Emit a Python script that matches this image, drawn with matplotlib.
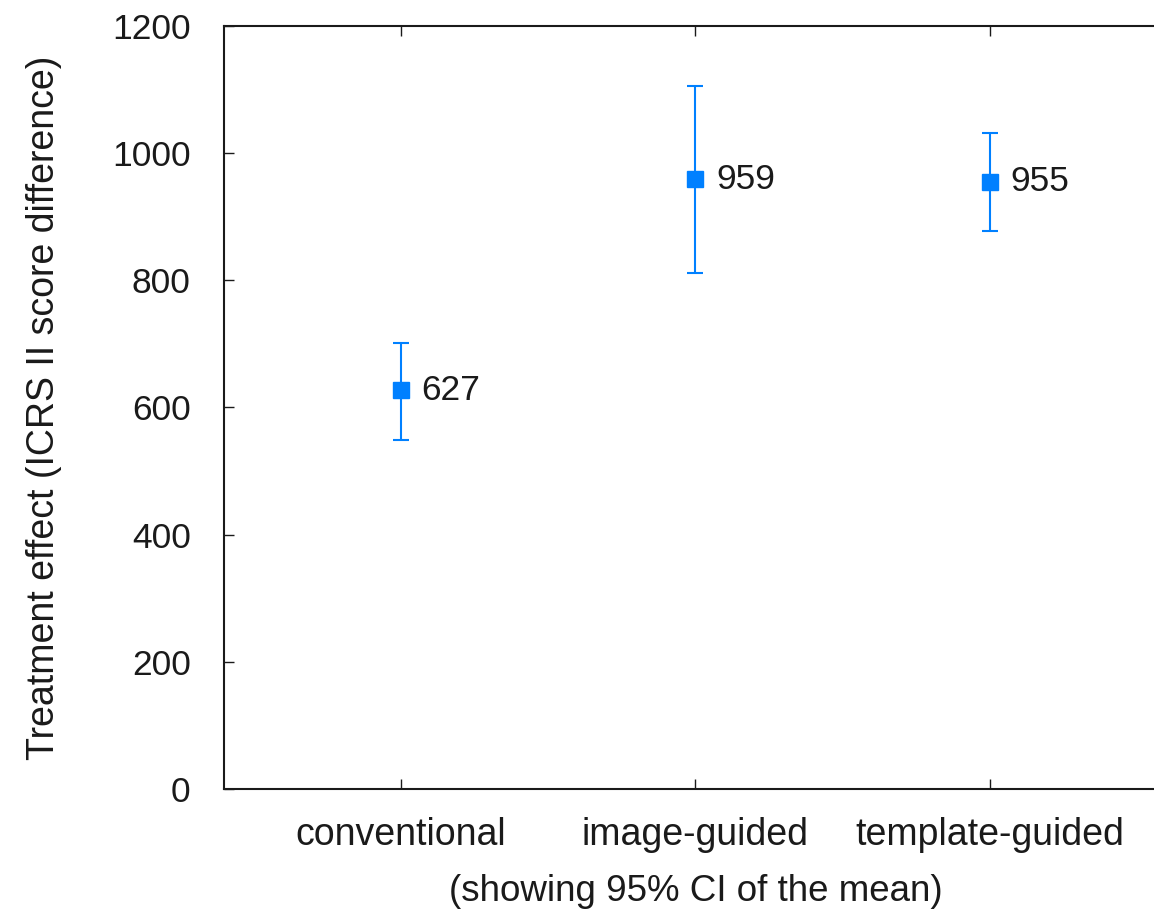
import matplotlib
matplotlib.use('Agg')
import matplotlib.pyplot as plt

# data
groups = ['conventional', 'image-guided', 'template-guided']
means = [627, 959, 955]
ci_low = [549, 812, 878]
ci_high = [702, 1105, 1032]

blue = '#0080ff'
plt.rcParams['font.family'] = ['Liberation Sans', 'DejaVu Sans']
plt.rcParams['font.size'] = 25.5

fig = plt.figure(figsize=(11.54, 9.15), dpi=100)
ax = fig.add_axes([0.1941, 0.1377, 0.817, 0.8339])

x = list(range(1, len(groups) + 1))
err = [[m - lo for m, lo in zip(means, ci_low)],
       [hi - m for m, hi in zip(means, ci_high)]]
ax.errorbar(x, means, yerr=err, fmt='s', color=blue, ecolor=blue,
            markersize=11, elinewidth=1.5, capsize=5.5, capthick=1.5)
for xi, m in zip(x, means):
    ax.annotate(str(m), (xi, m), xytext=(15, 0), textcoords='offset points',
                va='center', ha='left', color='#1a1a1a')

ax.set_xlim(0.4, 3.6)
ax.set_ylim(0, 1200)
ax.set_yticks(range(0, 1201, 200))
ax.set_xticks(x)
ax.set_xticklabels(groups, fontsize=27)
ax.tick_params(direction='in', length=7, width=1, top=True, right=True,
               colors='#1a1a1a')
ax.tick_params(axis='y', pad=24)
ax.tick_params(axis='x', pad=20)
for s in ax.spines.values():
    s.set_linewidth(1.5)
    s.set_color('#1a1a1a')

ax.set_ylabel('Treatment effect (ICRS II score difference)', fontsize=27,
              labelpad=36, color='#1a1a1a')
ax.set_xlabel('(showing 95% CI of the mean)', fontsize=26.5,
              labelpad=15, color='#1a1a1a')

fig.savefig('out.png', dpi=100)
